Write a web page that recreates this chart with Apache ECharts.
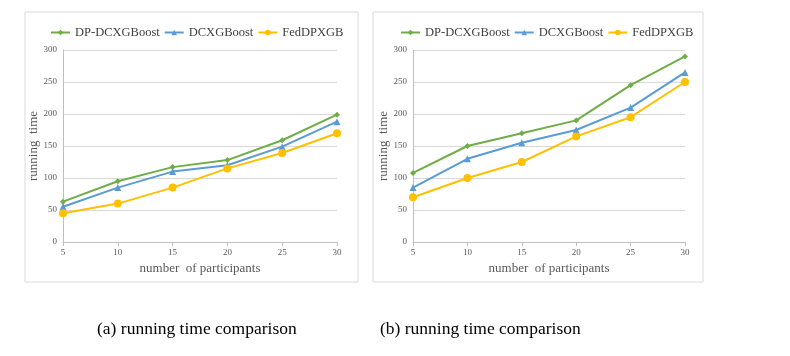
<!DOCTYPE html>
<html>
<head>
<meta charset="UTF-8">
<title>running time comparison</title>
<script src="https://cdn.jsdelivr.net/npm/echarts@6/dist/echarts.min.js"></script>
<style>
  html, body { margin: 0; padding: 0; background: #fff; }
  #main { width: 790px; height: 356px; }
</style>
</head>
<body>
<div id="main"></div>
<script>
// participants on the x axis
var participants = ['5', '10', '15', '20', '25', '30'];
var seriesNames = ['DP-DCXGBoost', 'DCXGBoost', 'FedDPXGB'];

// (a) running time
var dpA  = [63, 95, 117, 128, 159, 199];
var dcA  = [55, 85, 110, 120, 149, 188];
var fedA = [45, 60, 85, 115, 139, 170];

// (b) running time
var dpB  = [108, 150, 170, 190, 245, 290];
var dcB  = [85, 130, 155, 175, 210, 265];
var fedB = [70, 100, 125, 165, 195, 250];

var captions = ['(a) running time comparison', '(b) running time comparison'];

var colors = ['#70ad47', '#5b9bd5', '#ffc000'];
var symbols = ['diamond', 'triangle', 'circle'];
var symSizes = [6, 7, 8];
var font = 'Liberation Serif';

function xAxisFor(idx) {
    return {
        gridIndex: idx,
        type: 'category',
        data: participants,
        boundaryGap: false,
        name: 'number  of participants',
        nameLocation: 'middle',
        nameGap: 17,
        nameTextStyle: { fontFamily: font, fontSize: 13, color: '#595959' },
        axisLine: { lineStyle: { color: '#bfbfbf' } },
        axisTick: { show: true, length: 4, lineStyle: { color: '#bfbfbf' } },
        axisLabel: { fontFamily: font, fontSize: 9, color: '#595959', margin: 6 },
        splitLine: { show: false }
    };
}

function yAxisFor(idx) {
    return {
        gridIndex: idx,
        type: 'value',
        min: 0, max: 300, interval: 50,
        name: 'running  time',
        nameLocation: 'middle',
        nameGap: 21,
        nameTextStyle: { fontFamily: font, fontSize: 13, color: '#595959' },
        axisLine: { show: true, lineStyle: { color: '#bfbfbf' } },
        axisTick: { show: false },
        axisLabel: { fontFamily: font, fontSize: 9, color: '#595959', margin: 6 },
        splitLine: { lineStyle: { color: '#d9d9d9' } }
    };
}

function lineSeries(name, data, i, idx) {
    return {
        name: name,
        type: 'line',
        xAxisIndex: idx,
        yAxisIndex: idx,
        data: data,
        symbol: symbols[i],
        symbolSize: symSizes[i],
        showAllSymbol: true,
        itemStyle: { color: colors[i] },
        lineStyle: { color: colors[i], width: 2 },
        animation: false
    };
}

var legendTextStyle = { fontFamily: font, fontSize: 12.5, color: '#404040' };

var option = {
    backgroundColor: '#fff',
    animation: false,
    legend: [
        {
            data: seriesNames,
            left: 45, top: 21,
            itemWidth: 19, itemHeight: 7, itemGap: 4,
            textStyle: legendTextStyle
        },
        {
            data: seriesNames,
            left: 395, top: 21,
            itemWidth: 19, itemHeight: 7, itemGap: 4,
            textStyle: legendTextStyle
        }
    ],
    grid: [
        { left: 63, top: 50, width: 274, height: 192 },
        { left: 413, top: 50, width: 272, height: 192 }
    ],
    xAxis: [xAxisFor(0), xAxisFor(1)],
    yAxis: [yAxisFor(0), yAxisFor(1)],
    series: [
        lineSeries(seriesNames[0], dpA, 0, 0),
        lineSeries(seriesNames[1], dcA, 1, 0),
        lineSeries(seriesNames[2], fedA, 2, 0),
        lineSeries(seriesNames[0], dpB, 0, 1),
        lineSeries(seriesNames[1], dcB, 1, 1),
        lineSeries(seriesNames[2], fedB, 2, 1)
    ],
    graphic: [
        { type: 'rect', shape: { x: 25, y: 12, width: 333, height: 270 },
          style: { fill: 'none', stroke: '#d9d9d9', lineWidth: 1 }, silent: true },
        { type: 'rect', shape: { x: 373, y: 12, width: 330, height: 270 },
          style: { fill: 'none', stroke: '#d9d9d9', lineWidth: 1 }, silent: true },
        { type: 'text', left: 97, top: 320,
          style: { text: captions[0], font: '17.5px "Liberation Serif"', fill: '#000' } },
        { type: 'text', left: 380, top: 320,
          style: { text: captions[1], font: '17.5px "Liberation Serif"', fill: '#000' } }
    ]
};

echarts.init(document.getElementById('main')).setOption(option);
</script>
</body>
</html>
